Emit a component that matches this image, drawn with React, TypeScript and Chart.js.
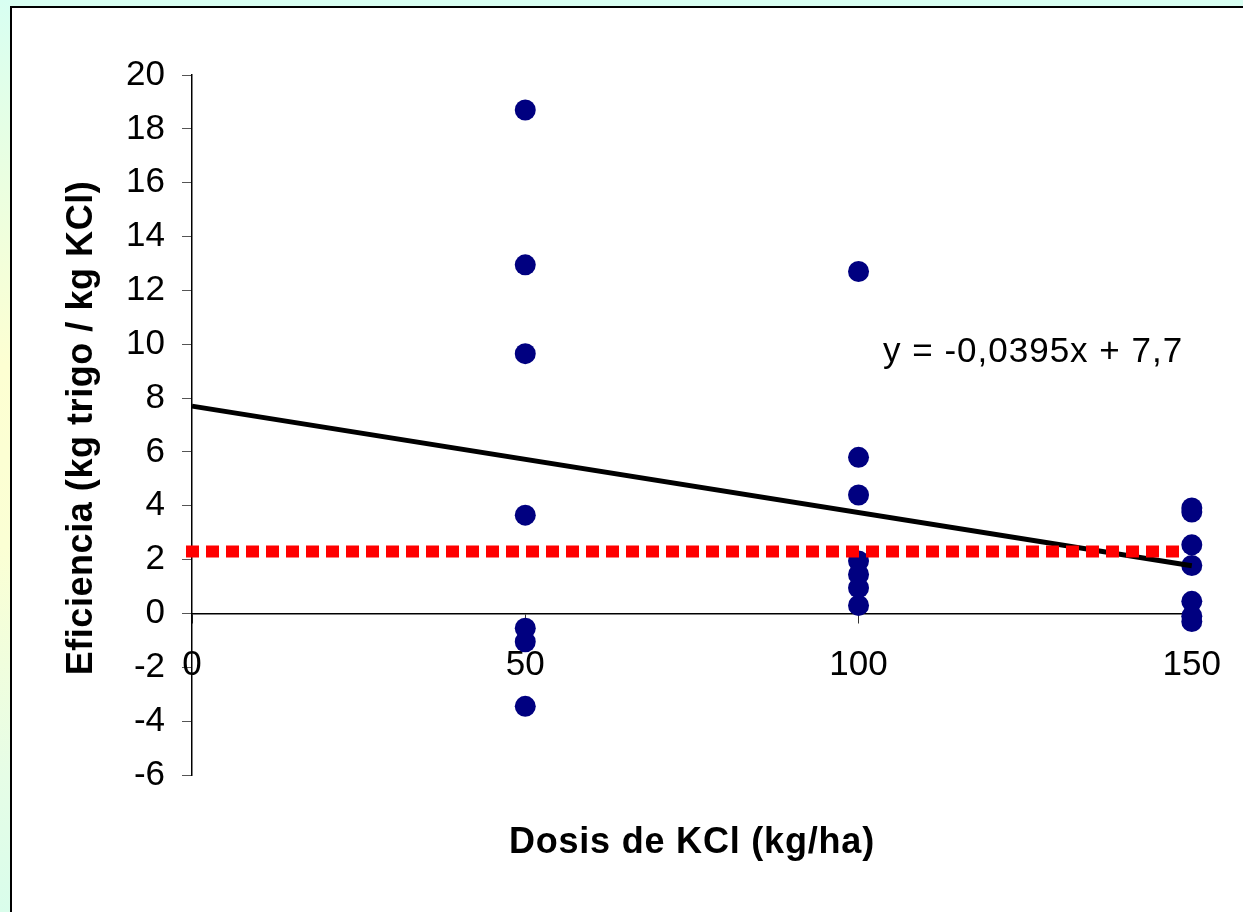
import React, { useEffect, useRef } from "react";
import { Chart, registerables } from "chart.js";

Chart.register(...registerables);

// ---- data ----
const doses = [50, 100, 150];
const eff50 = [18.7, 12.95, 9.65, 3.65, -0.55, -1.05, -3.45];
const eff100 = [12.7, 5.8, 4.4, 1.95, 1.45, 0.95, 0.3];
const eff150 = [3.92, 3.77, 2.55, 1.78, 0.45, -0.1, -0.3];
const trendSlope = -0.0395;
const trendIntercept = 7.7;
const referenceLevel = 2.3;
const xRange = [0, 150];
const yRange = [-6, 20];
const yStep = 2;
const xStep = 50;
const equationLabel = "y = -0,0395x + 7,7";
const xTitle = "Dosis de KCl (kg/ha)";
const yTitle = "Eficiencia (kg trigo / kg KCl)";

const FONT = "'Liberation Sans', Arial, sans-serif";

const scatterPoints = [
  ...eff50.map((y) => ({ x: doses[0], y })),
  ...eff100.map((y) => ({ x: doses[1], y })),
  ...eff150.map((y) => ({ x: doses[2], y })),
];
const trendPoints = xRange.map((x) => ({ x, y: trendSlope * x + trendIntercept }));
const refPoints = xRange.map((x) => ({ x, y: referenceLevel }));

const textPlugin = {
  id: "extraText",
  afterDraw(chart: any) {
    const { ctx, chartArea } = chart;
    ctx.save();
    ctx.fillStyle = "#000";
    ctx.textBaseline = "middle";
    ctx.textAlign = "center";
    ctx.font = `bold 36px ${FONT}`;
    ctx.letterSpacing = "0.8px";
    ctx.fillText(xTitle, (chartArea.left + chartArea.right) / 2, 843);

    ctx.save();
    ctx.translate(82, (chartArea.top + chartArea.bottom) / 2 + 3);
    ctx.rotate(-Math.PI / 2);
    ctx.letterSpacing = "0.55px";
    ctx.fillText(yTitle, 0, 0);
    ctx.restore();

    ctx.textAlign = "left";
    ctx.font = `35px ${FONT}`;
    ctx.letterSpacing = "1px";
    ctx.fillText(equationLabel, 883, 352);
    ctx.restore();
  },
};

export default function App() {
  const ref = useRef<HTMLCanvasElement | null>(null);
  useEffect(() => {
    if (!ref.current) return;
    const chart = new Chart(ref.current, {
      type: "scatter",
      data: {
        datasets: [
          {
            type: "line",
            label: "ref",
            data: refPoints,
            borderColor: "#ff0000",
            borderWidth: 12,
            borderDash: [1, 19],
            borderCapStyle: "square",
            pointRadius: 0,
            fill: false,
            order: 1,
            clip: false,
          } as any,
          {
            type: "line",
            label: "trend",
            data: trendPoints,
            borderColor: "#000000",
            borderWidth: 5,
            pointRadius: 0,
            fill: false,
            order: 2,
            clip: false,
          } as any,
          {
            label: "eff",
            data: scatterPoints,
            backgroundColor: "#000080",
            borderColor: "#000080",
            borderWidth: 0,
            pointRadius: 10.5,
            pointHoverRadius: 10.5,
            order: 3,
            clip: false,
          } as any,
        ],
      },
      options: {
        animation: false,
        responsive: false,
        events: [],
        layout: { padding: { left: 0, top: 75, right: 51, bottom: 137 } },
        plugins: { legend: { display: false }, tooltip: { enabled: false }, title: { display: false } },
        scales: {
          x: {
            type: "linear",
            position: { y: 0 } as any,
            min: xRange[0],
            max: xRange[1],
            grid: { display: true, drawOnChartArea: false, drawTicks: true, tickLength: 9, tickColor: "#333", lineWidth: 1 },
            border: { display: true, color: "#000", width: 1.5 },
            ticks: { stepSize: xStep, color: "#000", font: { family: FONT, size: 35 }, padding: 22, maxRotation: 0 },
          },
          y: {
            type: "linear",
            position: "left",
            min: yRange[0],
            max: yRange[1],
            afterFit: (scale: any) => {
              scale.width = 192;
            },
            grid: { display: true, drawOnChartArea: false, drawTicks: true, tickLength: 10, tickColor: "#555", lineWidth: 1 },
            border: { display: true, color: "#000", width: 1.5 },
            ticks: { stepSize: yStep, color: "#000", font: { family: FONT, size: 35 }, padding: 17 },
            title: { display: false },
          },
        },
      },
      plugins: [textPlugin],
    });
    return () => chart.destroy();
  }, []);

  return (
    <div
      style={{
        position: "fixed",
        left: 0,
        top: 0,
        width: 1243,
        height: 912,
        overflow: "hidden",
        background: "linear-gradient(to bottom, #d8fff2 0%, #e6ffe4 15%, #fdffd2 40%, #fbffd4 60%, #e6fde6 85%, #d9fdeb 100%)",
      }}
    >
      <div
        style={{
          position: "absolute",
          left: 10,
          top: 6,
          width: 1300,
          height: 1000,
          background: "#fff",
          borderLeft: "2px solid #000",
          borderTop: "2px solid #000",
        }}
      />
      <canvas ref={ref} width={1243} height={912} style={{ position: "absolute", left: 0, top: 0, width: 1243, height: 912 }} />
    </div>
  );
}
